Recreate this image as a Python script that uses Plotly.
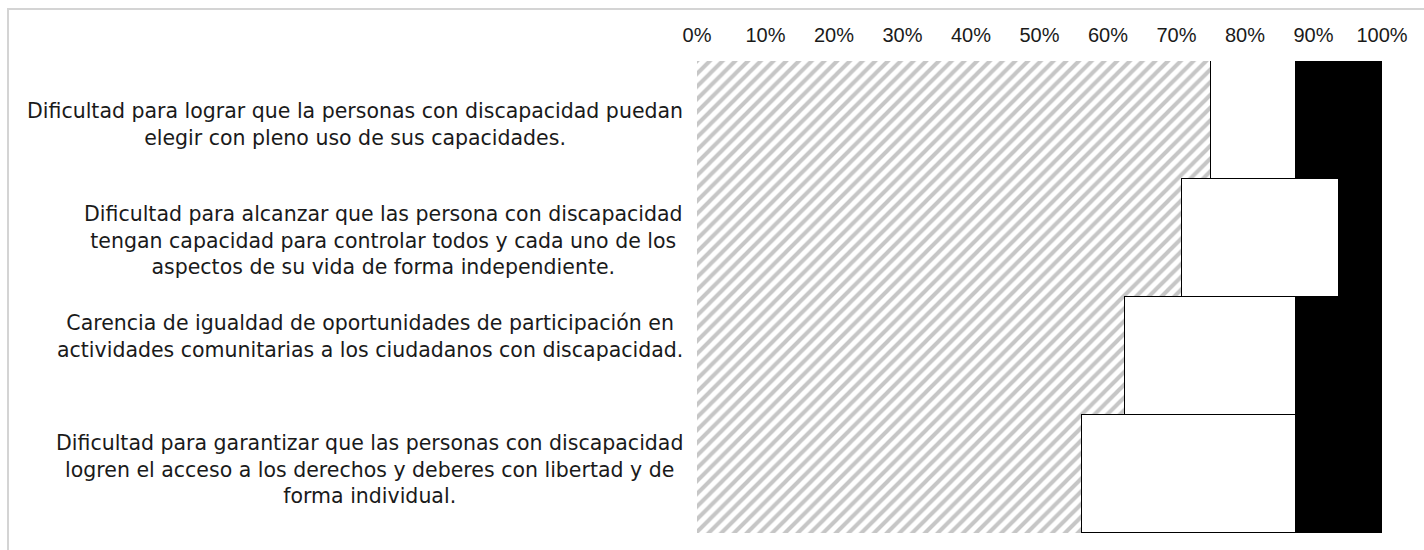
import plotly.graph_objects as go

# Survey items (top to bottom) and the share of answers in each category
items = [
    "Dificultad para lograr que la personas con discapacidad puedan<br>elegir con pleno uso de sus capacidades.",
    "Dificultad para alcanzar que las persona con discapacidad<br>tengan capacidad para controlar todos y cada uno de los<br>aspectos de su vida de forma independiente.",
    "Carencia de igualdad de oportunidades de participación en<br>actividades comunitarias a los ciudadanos con discapacidad.",
    "Dificultad para garantizar que las personas con discapacidad<br>logren el acceso a los derechos y deberes con libertad y de<br>forma individual.",
]
series_names = ["De acuerdo", "Ni de acuerdo ni en desacuerdo", "En desacuerdo"]
acuerdo = [75.0, 70.83, 62.5, 56.25]
neutral = [12.5, 22.92, 25.0, 31.25]
desacuerdo = [12.5, 6.25, 12.5, 12.5]
tick_values = [0, 10, 20, 30, 40, 50, 60, 70, 80, 90, 100]
tick_labels = ["0%", "10%", "20%", "30%", "40%", "50%", "60%", "70%", "80%", "90%", "100%"]

W, H = 1424, 550
ML, MR, MT, MB = 697, 42, 61, 17
label_yshift = [-4, -2, 20, 5]

fig = go.Figure()
fig.add_trace(go.Bar(
    y=items, x=acuerdo, orientation="h", name=series_names[0],
    marker=dict(color="white",
                pattern=dict(shape="/", fgcolor="#8e8e8e", bgcolor="white",
                             size=9, solidity=0.45),
                line=dict(width=0)),
))
fig.add_trace(go.Bar(
    y=items, x=neutral, orientation="h", name=series_names[1],
    marker=dict(color="white", line=dict(color="black", width=1.5)),
))
fig.add_trace(go.Bar(
    y=items, x=desacuerdo, orientation="h", name=series_names[2],
    marker=dict(color="black", line=dict(color="black", width=0)),
))

# Category labels: centred lines, block right-aligned next to the plot
for lab, dy in zip(items, label_yshift):
    fig.add_annotation(
        x=0, xref="paper", y=lab, yref="y", text=lab, showarrow=False,
        xanchor="right", xshift=-12, yshift=dy, align="center",
        font=dict(family="DejaVu Sans", size=20.5, color="#1a1a1a"),
    )

# light frame around the figure
px = lambda v: (v - ML) / (W - ML - MR)
py = lambda v: (H - MB - v) / (H - MT - MB)
fig.add_shape(type="rect", xref="paper", yref="paper",
              x0=px(8), x1=px(1440), y0=py(9), y1=py(570),
              line=dict(color="#d4d4d4", width=2), fillcolor="rgba(0,0,0,0)",
              layer="below")

fig.update_layout(
    width=W, height=H, barmode="stack", bargap=0,
    margin=dict(l=ML, r=MR, t=MT, b=MB),
    paper_bgcolor="white", plot_bgcolor="white",
    showlegend=False,
    font=dict(family="Liberation Sans, Arial", color="#1a1a1a"),
)
fig.update_xaxes(
    range=[0, 100], side="top", tickvals=tick_values, ticktext=tick_labels,
    showgrid=False, zeroline=False, showline=False, ticks="",
    tickfont=dict(size=20, color="#1a1a1a"), ticklabelstandoff=14,
)
fig.update_yaxes(
    autorange="reversed", showticklabels=False, showgrid=False,
    zeroline=False, showline=False, ticks="",
)

fig.write_html("out.html")
